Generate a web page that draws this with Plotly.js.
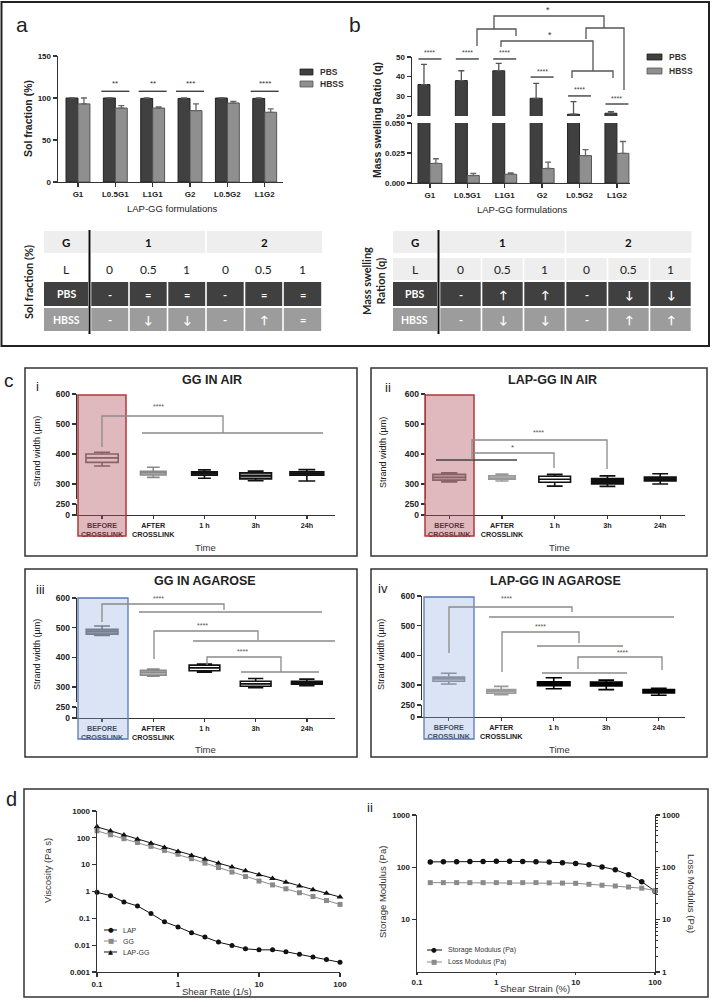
<!DOCTYPE html>
<html><head><meta charset="utf-8">
<script src="https://cdn.plot.ly/plotly-3.0.1.min.js"></script>
<style>html,body{margin:0;padding:0;background:#fff}#chart{width:712px;height:1007px}</style>
</head><body><div id="chart"></div>
<script>
// ---------------- DATA ----------------
const formulations = ['G1','L0.5G1','L1G1','G2','L0.5G2','L1G2'];
const solPBS = [100,100,99.5,99.5,100,99.5];
const solPBSErr = [0,0,0.5,0.5,0,0.5];
const solHBSS = [93,88,88,85,94,83];
const solHBSSErr = [7,3,1.5,8,2,4];
const solSig = ['','**','**','***','','****'];
const solSigLevel = [108,108,108,108,108,108];

const swPBS = [36,38,43,29,20.9,21.4];
const swPBSErr = [10.3,5,3.8,7.6,6.4,0.8];
const swHBSS = [0.0163,0.0062,0.0073,0.0121,0.0228,0.0247];
const swHBSSErr = [0.0039,0.0017,0.0011,0.0053,0.005,0.0099];
const swSig = ['****','****','****','****','****','****'];
const swSigLevel = [49,49,49,39.8,30.2,26.1];

const tableG = ['1','2'];
const tableL = ['0','0.5','1','0','0.5','1'];
const solTablePBS = ['-','=','=','-','=','='];
const solTableHBSS = ['-','↓','↓','-','↑','='];
const swTablePBS = ['-','↑','↑','-','↓','↓'];
const swTableHBSS = ['-','↓','↓','-','↑','↑'];

const timeCats = ['BEFORE<br>CROSSLINK','AFTER<br>CROSSLINK','1 h','3h','24h'];
// GG in air
const ggAirLo  = [360,322,319,311,310];
const ggAirQ1  = [372,330,329,317,329];
const ggAirMed = [387,338,336,327,335];
const ggAirQ3  = [400,342,341,337,341];
const ggAirHi  = [406,356,347,343,348];
// LAP-GG in air
const lgAirLo  = [307,310,293,292,300];
const lgAirQ1  = [313,316,306,300,310];
const lgAirMed = [322,320,316,308,317];
const lgAirQ3  = [332,327,326,318,323];
const lgAirHi  = [337,333,332,327,334];
// GG in agarose
const ggAgLo  = [474,337,350,298,305];
const ggAgQ1  = [478,340,355,303,310];
const ggAgMed = [488,350,365,311,316];
const ggAgQ3  = [495,357,374,320,320];
const ggAgHi  = [506,361,378,329,327];
// LAP-GG in agarose
const lgAgLo  = [304,268,288,285,266];
const lgAgQ1  = [313,273,298,297,274];
const lgAgMed = [321,280,304,303,280];
const lgAgQ3  = [327,285,311,310,285];
const lgAgHi  = [340,296,325,317,289];

const shearRate = [0.1,0.147,0.215,0.316,0.464,0.681,1,1.47,2.15,3.16,4.64,6.81,10,14.7,21.5,31.6,46.4,68.1,100];
const viscLAP   = [0.93,0.70,0.41,0.29,0.15,0.074,0.048,0.029,0.020,0.013,0.0098,0.0073,0.0067,0.0067,0.0057,0.0046,0.0036,0.0029,0.0023];
const viscGG    = [182,130,93,67,48,34,24.5,16.7,11.4,7.8,5.3,3.6,2.45,1.76,1.26,0.90,0.65,0.46,0.33];
const viscLAPGG = [257,181,127,89,63,44,31,22,15.8,11.4,8.2,5.9,4.2,3.05,2.2,1.62,1.17,0.86,0.62];

const shearStrain = [0.147,0.215,0.316,0.464,0.681,1,1.47,2.15,3.16,4.64,6.81,10,14.7,21.5,31.6,46.4,68.1,100];
const storageMod  = [127,128,128,129,129,130,130,129,128,126,123,119,112,102,90,72,53,35];
const lossMod     = [51,51,51,51,51,51,51,51,51,50.5,50,49.5,47.5,45.5,44,42,40,36];

// ---------------- HELPERS ----------------
const W=712, H=1007;
const X=p=>p/W, Y=p=>1-p/H;
const dX=(a,b)=>[a/W,b/W], dY=(t,b)=>[1-b/H,1-t/H];
const FONT='Liberation Sans, Arial, sans-serif';
const TFONT='Lato, "Noto Sans", "DejaVu Sans", sans-serif';
const traces=[], shapes=[], annotations=[];

function txt(x,y,text,opt){
  const o=opt||{};
  annotations.push({xref:'paper',yref:'paper',x:X(x),y:Y(y),text:text,showarrow:false,
    xanchor:o.xanchor||'center',yanchor:o.yanchor||'middle',textangle:o.angle||0,
    font:{family:o.family||FONT,size:o.size||10,color:o.color||'#222',weight:o.weight||'normal'}});
}
function poly(pts,color,width){
  const d=pts.map((p,i)=>(i?'L':'M')+X(p[0]).toFixed(5)+','+Y(p[1]).toFixed(5)).join(' ');
  shapes.push({type:'path',xref:'paper',yref:'paper',path:d,line:{color:color||'#666',width:width||1.3},layer:'above'});
}
function rect(x0,y0,x1,y1,fill,lc,lw){
  shapes.push({type:'rect',xref:'paper',yref:'paper',x0:X(x0),x1:X(x1),y0:Y(y1),y1:Y(y0),
    fillcolor:fill||'rgba(0,0,0,0)',line:{color:lc||'rgba(0,0,0,0)',width:lw||0},layer:'above'});
}
const tickB=(s)=>({family:FONT,size:s,color:'#222',weight:'bold'});
function axBase(extra){
  return Object.assign({showline:true,linecolor:'#333',linewidth:1.4,ticks:'outside',tickcolor:'#333',
    tickwidth:1.3,ticklen:4,showgrid:false,zeroline:false,fixedrange:true,tickfont:tickB(8)},extra);
}
const layout={width:W,height:H,margin:{l:0,r:0,t:0,b:0},paper_bgcolor:'#fff',plot_bgcolor:'rgba(0,0,0,0)',
  showlegend:false,barmode:'group',bargap:0.36,bargroupgap:0,boxmode:'overlay',
  font:{family:FONT,color:'#222'},shapes:shapes,annotations:annotations};

// ---------------- PANEL a/b frame ----------------
rect(1.5,2,709,346,null,'#222',2);
txt(22,24,'a',{size:21});
txt(355,24,'b',{size:21});

// ---------------- PANEL a ----------------
const aXd=[58,283], aXr=[-0.535,5.49];
const aCx=i=>aXd[0]+(i-aXr[0])/(aXr[1]-aXr[0])*(aXd[1]-aXd[0]);
const aYv=v=>182-v*(126/150);
layout.xaxis=axBase({domain:dX(aXd[0],aXd[1]),range:aXr,type:'category',anchor:'y',tickfont:tickB(8)});
layout.yaxis=axBase({domain:dY(56,182),range:[0,150],tickvals:[0,50,100,150],anchor:'x'});
const zeros6=[0,0,0,0,0,0];
traces.push({type:'bar',name:'PBS',x:formulations,y:solPBS,xaxis:'x',yaxis:'y',
  marker:{color:'#404040',line:{color:'#222',width:1}},
  error_y:{type:'data',symmetric:false,array:solPBSErr,arrayminus:zeros6,color:'#555',thickness:1.3,width:3}});
traces.push({type:'bar',name:'HBSS',x:formulations,y:solHBSS,xaxis:'x',yaxis:'y',
  marker:{color:'#8f8f8f',line:{color:'#555',width:1}},
  error_y:{type:'data',symmetric:false,array:solHBSSErr,arrayminus:zeros6,color:'#666',thickness:1.3,width:3}});
solSig.forEach((s,i)=>{ if(!s) return;
  const cx=aCx(i), yy=aYv(solSigLevel[i]);
  poly([[cx-14,yy],[cx+14,yy]],'#333',1.3);
  txt(cx,yy-8,s,{size:8,color:'#333'});
});
txt(28,119,'Sol fraction (%)',{angle:-90,size:10.5,weight:'bold'});
txt(172,209,'LAP-GG formulations',{size:9.5});
rect(300,69,313,75,'#404040','#222',0.8); txt(318,72,'PBS',{xanchor:'left',size:8.5,weight:'bold',color:'#333'});
rect(300,81,313,87,'#8f8f8f','#555',0.8); txt(318,84,'HBSS',{xanchor:'left',size:8.5,weight:'bold',color:'#333'});

// ---------------- PANEL b ----------------
const bXd=[412,630], bXr=[-0.48,5.35];
const bCx=i=>bXd[0]+(i-bXr[0])/(bXr[1]-bXr[0])*(bXd[1]-bXd[0]);
const bYv=v=>116-(v-20)*(59/30);
layout.xaxis2=axBase({domain:dX(bXd[0],bXd[1]),range:bXr,type:'category',anchor:'y2'});
layout.yaxis2=axBase({domain:dY(123,183),range:[0,0.05],tickvals:[0,0.025,0.05],ticktext:['0.000','0.025','0.050'],anchor:'x2'});
layout.yaxis3=axBase({domain:dY(57,116),range:[20,50],tickvals:[20,30,40,50],anchor:'x2'});
traces.push({type:'bar',x:formulations,y:swPBS,xaxis:'x2',yaxis:'y3',marker:{color:'#404040',line:{color:'#222',width:1}},
  error_y:{type:'data',symmetric:false,array:swPBSErr,arrayminus:zeros6,color:'#555',thickness:1.3,width:3}});
traces.push({type:'bar',x:formulations,y:swHBSS,xaxis:'x2',yaxis:'y3',marker:{color:'#8f8f8f',line:{color:'#555',width:1}}});
traces.push({type:'bar',x:formulations,y:swPBS,xaxis:'x2',yaxis:'y2',marker:{color:'#404040',line:{color:'#222',width:1}}});
traces.push({type:'bar',x:formulations,y:swHBSS,xaxis:'x2',yaxis:'y2',marker:{color:'#8f8f8f',line:{color:'#555',width:1}},
  error_y:{type:'data',symmetric:false,array:swHBSSErr,arrayminus:zeros6,color:'#666',thickness:1.3,width:3}});
swSig.forEach((s,i)=>{
  const cx=bCx(i), yy=bYv(swSigLevel[i]);
  poly([[cx-11.5,yy],[cx+11.5,yy]],'#333',1.3);
  txt(cx,yy-6,s,{size:7,color:'#444'});
});
// comparison brackets
poly([[494,29],[494,16],[604,16],[604,28]],'#555',1.3);
poly([[477,46],[477,29],[516,29],[516,36]],'#555',1.3);
poly([[586,39],[586,28],[624,28],[624,90]],'#555',1.3);
poly([[501,47],[501,41],[593,41],[593,71]],'#555',1.3);
poly([[572,78],[572,71],[613,71],[613,78]],'#555',1.3);
txt(548,10,'*',{size:9,color:'#333'});
txt(550,35,'*',{size:9,color:'#333'});
txt(377,120,'Mass swelling Ratio (q)',{angle:-90,size:10.5,weight:'bold'});
txt(522,210,'LAP-GG formulations',{size:9.5});
rect(647,54,662,60,'#404040','#222',0.8); txt(667,57,'PBS',{xanchor:'left',size:8.5,weight:'bold',color:'#333'});
rect(647,68,662,74,'#8f8f8f','#555',0.8); txt(667,71,'HBSS',{xanchor:'left',size:8.5,weight:'bold',color:'#333'});

// ---------------- TABLES ----------------
const rowsY={G:[231,253],L:[258,280],P:[282,306],Hb:[308,331]};
function drawTable(x0,labR,bnd,lFill,pbs,hbss){
  const lc=(x0+labR)/2, g=0.8;
  rect(x0,rowsY.G[0],labR,rowsY.G[1],'#eeeeee');
  rect(bnd[0]+g,rowsY.G[0],bnd[3]-g,rowsY.G[1],'#eeeeee');
  rect(bnd[3]+g,rowsY.G[0],bnd[6],rowsY.G[1],'#eeeeee');
  txt(lc,242,'G',{family:TFONT,size:11.5,weight:'bold',color:'#111'});
  txt((bnd[0]+bnd[3])/2,242,tableG[0],{family:TFONT,size:11.5,weight:'bold',color:'#111'});
  txt((bnd[3]+bnd[6])/2,242,tableG[1],{family:TFONT,size:11.5,weight:'bold',color:'#111'});
  if(lFill){ rect(x0,rowsY.L[0],labR,rowsY.L[1],lFill); }
  txt(lc,269,'L',{family:TFONT,size:12,color:'#222'});
  for(let i=0;i<6;i++){
    const a=bnd[i]+g, b=bnd[i+1]-g, c=(bnd[i]+bnd[i+1])/2;
    if(lFill) rect(a,rowsY.L[0],b,rowsY.L[1],lFill);
    txt(c,269,tableL[i],{family:TFONT,size:12,color:'#222'});
    rect(a,rowsY.P[0],b,rowsY.P[1],'#404040');
    rect(a,rowsY.Hb[0],b,rowsY.Hb[1],'#9c9c9c');
    txt(c,294,pbs[i],{family:TFONT,size:11,weight:'bold',color:'#fff'});
    txt(c,319.5,hbss[i],{family:TFONT,size:11,weight:'bold',color:'#fff'});
  }
  rect(x0,rowsY.P[0],labR,rowsY.P[1],'#404040');
  rect(x0,rowsY.Hb[0],labR,rowsY.Hb[1],'#9c9c9c');
  txt(lc,294,'PBS',{family:TFONT,size:10.5,weight:'bold',color:'#fff'});
  txt(lc,319.5,'HBSS',{family:TFONT,size:10.5,weight:'bold',color:'#fff'});
  poly([[labR+1.5,230],[labR+1.5,334]],'#111',2);
}
drawTable(44,88,[90.5,129,167.5,206,244.5,283,322],null,solTablePBS,solTableHBSS);
drawTable(393,437,[439.5,481.5,523.5,565.5,607.5,649.5,691.5],'#eeeeee',swTablePBS,swTableHBSS);
txt(28,282,'Sol fraction (%)',{angle:-90,size:11,weight:'bold',family:TFONT});
txt(373,281,'Mass swelling<br>Ration (q)',{angle:-90,size:11,weight:'bold',family:TFONT});

// ---------------- PANEL c ----------------
txt(9,381,'c',{size:19});
rect(25,368,357,556,null,'#333',1.5);
rect(371,368,707,556,null,'#333',1.5);
rect(25,569,357,757,null,'#333',1.5);
rect(371,569,707,757,null,'#333',1.5);

const cPanels=[
 {n:3,yu:4,yl:5,xd:[77,335],xr:[-0.49,4.55],yud:[394,499],yld:[504,515],
  lo:ggAirLo,q1:ggAirQ1,med:ggAirMed,q3:ggAirQ3,hi:ggAirHi,
  lc:['#6e6e6e','#8a8a8a','#111','#111','#111'],fc:['#ffffff','#b8b8b8','#333','#888','#333'],w:[0.63,0.5,0.5,0.62,0.66]},
 {n:4,yu:6,yl:7,xd:[426,685],xr:[-0.44,4.47],yud:[394,499],yld:[504,515],
  lo:lgAirLo,q1:lgAirQ1,med:lgAirMed,q3:lgAirQ3,hi:lgAirHi,
  lc:['#707070','#9a9a9a','#111','#111','#111'],fc:['#d0d0d0','#d6d6d6','#ffffff','#111','#111'],w:[0.62,0.5,0.6,0.6,0.6]},
 {n:5,yu:8,yl:9,xd:[77,335],xr:[-0.49,4.55],yud:[598,702],yld:[707,718],
  lo:ggAgLo,q1:ggAgQ1,med:ggAgMed,q3:ggAgQ3,hi:ggAgHi,
  lc:['#6a6a6a','#8a8a8a','#111','#111','#111'],fc:['#8a8a8a','#b0b0b0','#ffffff','#ffffff','#ffffff'],w:[0.62,0.5,0.6,0.6,0.6]},
 {n:6,yu:10,yl:11,xd:[422,685],xr:[-0.51,4.5],yud:[596,700],yld:[705,717],
  lo:lgAgLo,q1:lgAgQ1,med:lgAgMed,q3:lgAgQ3,hi:lgAgHi,
  lc:['#888','#9a9a9a','#000','#000','#000'],fc:['#dddddd','#eeeeee','#000','#000','#000'],w:[0.6,0.55,0.62,0.6,0.6]}
];
cPanels.forEach(p=>{
  layout['xaxis'+p.n]=axBase({domain:dX(p.xd[0],p.xd[1]),range:p.xr,type:'category',anchor:'y'+p.yl,
     tickfont:tickB(7.2),ticklen:3,categoryorder:'array',categoryarray:timeCats});
  layout['yaxis'+p.yu]=axBase({domain:dY(p.yud[0],p.yud[1]),range:[250,600],tickvals:[300,400,500,600],anchor:'x'+p.n,tickfont:tickB(8.5)});
  layout['yaxis'+p.yl]=axBase({domain:dY(p.yld[0],p.yld[1]),range:[0,250],tickvals:[0,250],anchor:'x'+p.n,tickfont:tickB(8.5)});
  traces.push({type:'scatter',x:[],y:[],xaxis:'x'+p.n,yaxis:'y'+p.yl,showlegend:false,hoverinfo:'skip'});
  for(let i=0;i<timeCats.length;i++){
    traces.push({type:'box',xaxis:'x'+p.n,yaxis:'y'+p.yu,x:[timeCats[i]],q1:[p.q1[i]],median:[p.med[i]],q3:[p.q3[i]],
      lowerfence:[p.lo[i]],upperfence:[p.hi[i]],width:p.w[i],whiskerwidth:0.5,boxpoints:false,
      line:{color:p.lc[i],width:1.6},fillcolor:p.fc[i],hoverinfo:'skip',showlegend:false});
  }
});
rect(78,395,126,536,'rgba(175,80,92,0.40)','#b03a3a',1.5);
rect(425,395,474,536,'rgba(175,80,92,0.40)','#b03a3a',1.5);
rect(78,598,128,739,'rgba(140,170,222,0.32)','#5b7bb5',1.3);
rect(424,597,474,739,'rgba(140,170,222,0.32)','#5b7bb5',1.3);
txt(212,380,'GG IN AIR',{size:12.5,weight:'bold'});
txt(552,380,'LAP-GG IN AIR',{size:12.5,weight:'bold'});
txt(205,581,'GG IN AGAROSE',{size:12.5,weight:'bold'});
txt(555,581,'LAP-GG IN AGAROSE',{size:12.5,weight:'bold'});
txt(37,386,'i',{size:13});
txt(388,387,'ii',{size:13});
txt(40,589,'iii',{size:13});
txt(383,588,'iv',{size:13});
[[37,452],[383,452],[37,655],[381,655]].forEach(p=>txt(p[0],p[1],'Strand width (µm)',{angle:-90,size:9}));
[[205,547],[559,547],[205,749],[559,749]].forEach(p=>txt(p[0],p[1],'Time',{size:9.5,color:'#333'}));
const SC='#8a8a8a';
poly([[102,447],[102,416],[223,416],[223,433]],SC); poly([[142,433],[323,433]],SC); txt(158,406,'****',{size:7,color:'#555'});
poly([[436,460],[517,460]],'#444');
poly([[472,460],[472,440],[607,440],[607,469]],SC);
poly([[472,453],[554,453],[554,468]],SC);
txt(512,447,'*',{size:8,color:'#555'}); txt(538,432,'****',{size:7,color:'#555'});
poly([[102,622],[102,604],[224,604],[224,610]],SC); poly([[139,612],[322,612]],SC); txt(158,598,'****',{size:7,color:'#555'});
poly([[154,659],[154,631],[258,631],[258,640]],SC); poly([[193,641],[335,641]],SC); txt(202,625,'****',{size:7,color:'#555'});
poly([[207,665],[207,657],[281,657],[281,672]],SC); poly([[241,672],[319,672]],SC); txt(243,651,'****',{size:7,color:'#555'});
poly([[449,653],[449,607],[572,607],[572,612]],SC); poly([[489,617],[674,617]],SC); txt(506,598,'****',{size:7,color:'#555'});
poly([[502,672],[502,632],[579,632],[579,643]],SC); poly([[537,646],[623,646]],SC); txt(540,626,'****',{size:7,color:'#555'});
poly([[578,669],[578,657],[662,657],[662,670]],SC); poly([[542,673],[627,673]],SC); txt(622,652,'****',{size:7,color:'#555'});

// ---------------- PANEL d ----------------
txt(11,799,'d',{size:20});
rect(24,789,708,997,null,'#333',1.5);
layout.xaxis7=axBase({domain:dX(97,340),range:[-1,2],type:'log',anchor:'y12',tickvals:[0.1,1,10,100],ticktext:['0.1','1','10','100'],tickfont:tickB(8)});
layout.yaxis12=axBase({domain:dY(811,972),range:[-3,3],type:'log',anchor:'x7',tickvals:[0.001,0.01,0.1,1,10,100,1000],
  ticktext:['0.001','0.01','0.1','1','10','100','1000'],tickfont:tickB(8)});
traces.push({type:'scatter',mode:'lines+markers',x:shearRate,y:viscLAP,xaxis:'x7',yaxis:'y12',
  line:{color:'#111',width:1},marker:{symbol:'circle',size:5,color:'#111'},cliponaxis:false});
traces.push({type:'scatter',mode:'lines+markers',x:shearRate,y:viscGG,xaxis:'x7',yaxis:'y12',
  line:{color:'#8a8a8a',width:1},marker:{symbol:'square',size:5,color:'#8a8a8a'},cliponaxis:false});
traces.push({type:'scatter',mode:'lines+markers',x:shearRate,y:viscLAPGG,xaxis:'x7',yaxis:'y12',
  line:{color:'#111',width:1},marker:{symbol:'triangle-up',size:6,color:'#111'},cliponaxis:false});
txt(47,870,'Viscosity (Pa s)',{angle:-90,size:9.5,color:'#333'});
txt(217,991,'Shear Rate (1/s)',{size:9.5,color:'#333'});
[['●','LAP','#111',930],['■','GG','#8a8a8a',941],['▲','LAP-GG','#111',952]].forEach(l=>{
  poly([[104,l[3]],[117,l[3]]],l[2],1);
  txt(110.5,l[3],l[0],{size:6.5,color:l[2],family:'DejaVu Sans'});
  txt(121,l[3],l[1],{xanchor:'left',size:7,color:'#333'});
});

layout.xaxis8=axBase({domain:dX(417,655),range:[-1,2],type:'log',anchor:'y13',ticklen:2,tickvals:[0.1,1,10,100],ticktext:['0.1','1','10','100'],tickfont:tickB(8)});
layout.yaxis13=axBase({domain:dY(815,972),range:[0,3],type:'log',anchor:'x8',tickvals:[10,100,1000],ticktext:['10','100','1000'],tickfont:tickB(8)});
layout.yaxis14=axBase({domain:dY(815,972),range:[0,3],type:'log',anchor:'x8',overlaying:'y13',side:'right',
  tickvals:[1,10,100,1000],ticktext:['1','10','100','1000'],tickfont:tickB(8),
  minor:{ticks:'outside',ticklen:2,tickcolor:'#333',tickwidth:1,dtick:'D1'}});
traces.push({type:'scatter',mode:'lines+markers',x:shearStrain,y:storageMod,xaxis:'x8',yaxis:'y13',
  line:{color:'#111',width:1},marker:{symbol:'circle',size:5.5,color:'#111'},cliponaxis:false});
traces.push({type:'scatter',mode:'lines+markers',x:shearStrain,y:lossMod,xaxis:'x8',yaxis:'y14',
  line:{color:'#8a8a8a',width:1},marker:{symbol:'square',size:5,color:'#8a8a8a'},cliponaxis:false});
txt(370,807,'ii',{size:13});
txt(382,892,'Storage Modulus (Pa)',{angle:-90,size:9.5,color:'#333'});
txt(692,893,'Loss Modulus (Pa)',{angle:90,size:9.5,color:'#333'});
txt(535,988,'Shear Strain (%)',{size:9.5,color:'#333'});
[['●','Storage Modulus (Pa)','#111',950],['■','Loss Modulus (Pa)','#8a8a8a',962]].forEach(l=>{
  poly([[427,l[3]],[442,l[3]]],l[2],1);
  txt(434.5,l[3],l[0],{size:6.5,color:l[2],family:'DejaVu Sans'});
  txt(446,l[3],l[1],{xanchor:'left',size:7,color:'#333'});
});

Plotly.newPlot('chart',traces,layout,{staticPlot:true,displayModeBar:false});
</script></body></html>
